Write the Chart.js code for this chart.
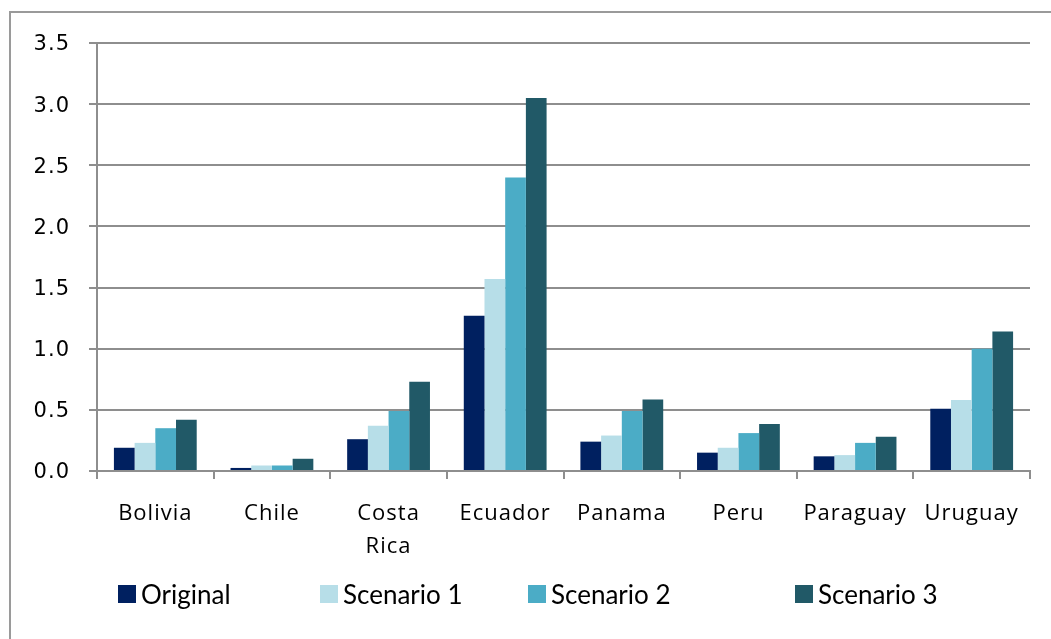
<!DOCTYPE html>
<html lang="en">
<head>
    <meta charset="UTF-8">
    <title>Scenario comparison by country</title>
    <script src="https://cdn.jsdelivr.net/npm/chart.js@4.4.0/dist/chart.umd.min.js"></script>
    <style>
        html, body { margin: 0; padding: 0; background: #fff; overflow: hidden; }
        #wrap { position: relative; width: 1051px; height: 639px; }
        #frame { position: absolute; left: 9px; top: 11px; width: 1100px; height: 700px;
                 border-left: 2px solid #9a9a9a; border-top: 2px solid #9a9a9a; }
        #chart { position: absolute; left: 0; top: 0; }
        .legend-item { position: absolute; top: 582px; height: 24px; display: flex; align-items: center;
                       font-family: Lato, sans-serif; font-size: 26px; color: #000; white-space: nowrap; }
        .legend-item span.box { display: inline-block; width: 18px; height: 18px; margin-right: 5px; }
    </style>
</head>
<body>
<div id="wrap">
    <div id="frame"></div>
    <canvas id="chart" width="1051" height="639"></canvas>
    <div id="legend"></div>
</div>
<script>
    const countries = ['Bolivia', 'Chile', ['Costa', 'Rica'], 'Ecuador', 'Panama', 'Peru', 'Paraguay', 'Uruguay'];
    const seriesNames = ['Original', 'Scenario 1', 'Scenario 2', 'Scenario 3'];
    const seriesColors = ['#002060', '#b7dee8', '#4bacc6', '#215967'];

    const original  = [0.19, 0.025, 0.26, 1.27, 0.24, 0.15, 0.12, 0.51];
    const scenario1 = [0.23, 0.045, 0.37, 1.57, 0.29, 0.19, 0.13, 0.58];
    const scenario2 = [0.35, 0.045, 0.49, 2.40, 0.49, 0.31, 0.23, 1.00];
    const scenario3 = [0.42, 0.10, 0.73, 3.05, 0.585, 0.385, 0.28, 1.14];

    const yTicks = [0, 0.5, 1.0, 1.5, 2.0, 2.5, 3.0, 3.5];

    const allSeries = [original, scenario1, scenario2, scenario3];
    const gridGray = '#8e8e8e';

    // spread the axis text a little, like the spreadsheet rendering
    const spacedText = {
        id: 'spacedText',
        beforeDraw(chart) { chart.ctx.letterSpacing = '1px'; }
    };

    new Chart(document.getElementById('chart'), {
        type: 'bar',
        data: {
            labels: countries,
            datasets: allSeries.map((values, i) => ({
                label: seriesNames[i],
                data: values,
                backgroundColor: seriesColors[i],
                borderWidth: 0,
                categoryPercentage: 0.71,
                barPercentage: 1.0
            }))
        },
        options: {
            responsive: false,
            animation: false,
            layout: { padding: { top: 43, right: 21, left: 0, bottom: 0 } },
            plugins: {
                legend: { display: false },
                tooltip: { enabled: false }
            },
            scales: {
                x: {
                    afterFit: scale => { scale.height = 168; },
                    grid: { drawOnChartArea: false, drawTicks: true, tickLength: 8, color: gridGray, lineWidth: 2 },
                    border: { color: gridGray, width: 2 },
                    ticks: {
                        color: '#000', padding: 18, maxRotation: 0, autoSkip: false,
                        font: { family: "'Open Sans'", size: 22, lineHeight: 1.5 }
                    }
                },
                y: {
                    min: 0, max: 3.5,
                    afterFit: scale => { scale.width = 97; },
                    afterBuildTicks: scale => { scale.ticks = yTicks.map(v => ({ value: v })); },
                    grid: { color: gridGray, lineWidth: 2, tickLength: 8 },
                    border: { color: gridGray, width: 2 },
                    ticks: {
                        color: '#000', padding: 19, labelOffset: 2,
                        font: { family: "'DejaVu Sans'", size: 21 },
                        callback: v => Number(v).toFixed(1)
                    }
                }
            }
        },
        plugins: [spacedText]
    });

    // legend placed like the spreadsheet original, not evenly spaced
    const legendLeft = [118, 320, 528, 795];
    const legend = document.getElementById('legend');
    seriesNames.forEach((name, i) => {
        const item = document.createElement('div');
        item.className = 'legend-item';
        item.style.left = legendLeft[i] + 'px';
        item.innerHTML = '<span class="box" style="background:' + seriesColors[i] + '"></span>' + name;
        legend.appendChild(item);
    });
</script>
</body>
</html>
